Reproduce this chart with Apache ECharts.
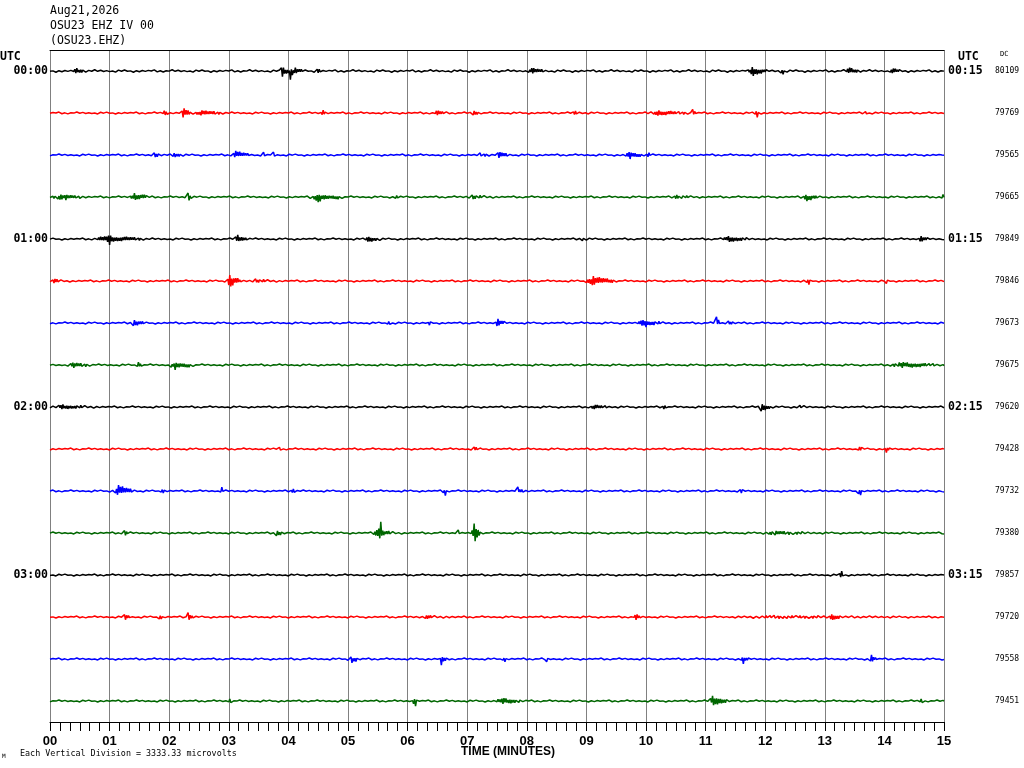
<!DOCTYPE html>
<html><head><meta charset="utf-8">
<script src="https://cdn.jsdelivr.net/npm/echarts@6/dist/echarts.min.js"></script>
<style>html,body{margin:0;padding:0;background:#fff}#c{width:1024px;height:768px}</style>
</head><body><div id="c"></div>
<script>
const minuteLabels = ['00','01','02','03','04','05','06','07','08','09','10','11','12','13','14','15'];
const leftTimes  = ['00:00','','','','01:00','','','','02:00','','','','03:00','','',''];
const rightTimes = ['00:15','','','','01:15','','','','02:15','','','','03:15','','',''];
const dcValues = ['80109','79769','79565','79665','79849','79846','79673','79675','79620','79428','79732','79380','79857','79720','79558','79451'];
const traceColors = ['#000000','#ff0000','#0000ff','#006600'];
// background noise amplitude per line (in vertical divisions)
const baseNoise = [0.03,0.025,0.025,0.025,0.025,0.025,0.025,0.025,0.025,0.025,0.025,0.025,0.025,0.025,0.025,0.025];
// bursts per line: [start minute, end minute, peak up, peak down] (divisions)
const traceEvents = [
  [[0.35,0.7,.07,.05],[3.86,4.0,.1,.14],[4.02,4.06,.05,.24],[4.07,4.25,.08,.06],[4.45,4.55,.05,.04],[8.0,8.36,.07,.06],[11.72,12.0,.1,.12],[12.25,12.32,.02,.1],[13.33,13.67,.08,.05],[14.07,14.35,.06,.05]],
  [[1.9,2.0,.07,.05],[2.2,2.36,.12,.12],[2.4,3.0,.06,.06],[4.55,4.65,.07,.05],[6.43,6.7,.06,.05],[7.05,7.27,.05,.05],[8.75,8.98,.05,.04],[9.98,10.88,.06,.06],[10.77,10.81,.1,.04],[11.84,11.88,.05,.12],[13.68,13.72,.05,.02]],
  [[1.68,1.96,.05,.05],[2.01,2.35,.05,.05],[3.02,3.36,.1,.05],[3.56,3.6,.07,.05],[3.73,3.77,.07,.04],[7.1,7.55,.05,.04],[7.47,7.75,.07,.07],[9.65,9.93,.07,.1],[10.02,10.06,.07,.05]],
  [[0,0.67,.06,.06],[0.26,0.3,.03,.1],[1.34,1.68,.1,.07],[2.28,2.36,.1,.1],[4.36,4.92,.05,.12],[5.78,5.82,.05,.03],[6.93,7.55,.05,.05],[10.37,10.93,.05,.04],[12.6,12.95,.05,.1],[14.95,15,.07,.03]],
  [[0.73,1.68,.08,.07],[0.98,1.02,.12,.14],[3.08,3.36,.1,.05],[5.26,5.6,.05,.07],[8.86,9.1,.05,.04],[11.27,11.77,.07,.07],[14.57,14.74,.07,.07]],
  [[0,0.28,.05,.05],[2.96,3.19,.14,.14],[3.3,3.9,.05,.04],[8.98,9.48,.12,.1],[12.7,12.74,.03,.12],[14.02,14.06,.02,.07]],
  [[1.34,1.62,.07,.07],[5.68,5.72,.05,.03],[6.36,6.4,.03,.07],[7.48,7.52,.03,.07],[7.47,7.63,.1,.07],[9.81,10.37,.07,.07],[9.98,10.02,.12,.1],[11.17,11.21,.17,.03],[11.3,11.6,.05,.04]],
  [[0.28,0.73,.06,.07],[1.45,1.57,.07,.05],[2.01,2.4,.05,.12],[14.07,15.0,.07,.07]],
  [[0,0.84,.06,.05],[9.03,9.48,.05,.05],[10.28,10.32,.05,.05],[11.88,12.1,.07,.1],[12.5,12.8,.04,.04]],
  [[3.84,3.88,.05,.03],[7.05,7.27,.05,.05],[13.58,13.62,.07,.03],[14.02,14.06,.03,.1]],
  [[1.06,1.4,.14,.1],[1.88,1.92,.05,.05],[2.86,2.9,.1,.03],[4.03,4.2,.05,.04],[6.61,6.65,.02,.12],[7.8,7.97,.1,.04],[11.58,11.62,.05,.05],[13.57,13.61,.02,.12]],
  [[1.23,1.34,.07,.06],[3.75,3.97,.05,.07],[5.37,5.87,.07,.07],[5.5,5.58,.31,.14],[6.83,6.87,.07,.02],[7.05,7.22,.07,.07],[7.1,7.2,.29,.21],[11.88,13.0,.05,.05]],
  [[5.46,5.5,.05,.02],[13.26,13.3,.1,.07]],
  [[1.23,1.34,.07,.07],[1.83,1.87,.03,.07],[2.3,2.4,.14,.07],[6.1,7.0,.04,.04],[9.8,9.93,.07,.07],[11.2,15,.04,.04],[13.06,13.33,.07,.07]],
  [[5.0,5.2,.05,.1],[6.55,6.65,.05,.19],[7.61,7.65,.03,.07],[8.31,8.35,.03,.07],[11.6,11.72,.05,.12],[13.75,13.87,.1,.07]],
  [[3.0,3.04,.05,.05],[6.08,6.17,.05,.14],[7.47,8.0,.07,.07],[11.05,11.38,.14,.1],[14.6,14.64,.05,.05]]
];
const wiggle = [0.2,0.9,0.4,0.1,0.7,0.3,1.0,0.15,0.5,0.25,0.8,0.05,0.6];

function buildTrace(row){
  const pts = [];
  const ev = traceEvents[row];
  for (let k = 0; k <= 900; k++){
    const t = k / 60;
    const up = (k % 2 === 1);
    const m = wiggle[(k + row * 5) % wiggle.length];
    let amp = baseNoise[row] * m;
    for (const e of ev){
      const s = e[0], en = e[1], w = en - s;
      if (t < s - 0.03 || t > en + 0.03) continue;
      const spike = w < 0.1;
      const pk = spike ? s + w / 2 : s + w * 0.25;
      let env;
      if (spike){
        env = 1 - Math.abs(t - pk) / (w / 2 + 0.03);
      } else if (t <= pk){
        env = 0.3 + 0.7 * (t - s) / (pk - s);
      } else {
        env = 1 - 0.7 * (t - pk) / (en - pk);
      }
      env = Math.max(0, Math.min(1, env));
      const isPeak = Math.abs(t - pk) * 60 < 1.0;
      const mm = isPeak ? 1 : 0.35 + 0.65 * m;
      const a = (up ? e[2] : e[3]) * env * mm;
      if (a > amp) amp = a;
    }
    pts.push([t, row + 0.5 + (up ? -amp : amp)]);
  }
  return pts;
}

const series = [];
for (let r = 0; r < 16; r++){
  series.push({
    type: 'line', xAxisIndex: 0, yAxisIndex: 0, data: buildTrace(r),
    showSymbol: false, symbol: 'none', silent: true, animation: false,
    lineStyle: { color: traceColors[r % 4], width: 1.5 }
  });
}

const mono = "'DejaVu Sans Mono', 'Liberation Mono', monospace";
const chart = echarts.init(document.getElementById('c'), null, { renderer: 'canvas' });
chart.setOption({
  backgroundColor: '#ffffff',
  animation: false,
  title: [
    { text: 'Aug21,2026\nOSU23 EHZ IV 00\n(OSU23.EHZ)', left: 50, top: 4, padding: 0,
      textStyle: { fontFamily: mono, fontSize: 11.5, fontWeight: 'normal', color: '#000', lineHeight: 15 } },
    { text: 'UTC', left: 0, top: 50, padding: 0,
      textStyle: { fontFamily: mono, fontSize: 11.5, fontWeight: 'bold', color: '#000', lineHeight: 14 } },
    { text: 'UTC', left: 958, top: 50, padding: 0,
      textStyle: { fontFamily: mono, fontSize: 11.5, fontWeight: 'bold', color: '#000', lineHeight: 14 } },
    { text: 'DC', left: 1000, top: 50, padding: 0,
      textStyle: { fontFamily: mono, fontSize: 7, fontWeight: 'normal', color: '#000', lineHeight: 9 } },
    { text: 'TIME (MINUTES)', left: 461, top: 746, padding: 0,
      textStyle: { fontFamily: "'Liberation Sans', Arial, sans-serif", fontSize: 12, fontWeight: 'bold', color: '#000', lineHeight: 12 } },
    { text: 'Each Vertical Division = 3333.33 microvolts', left: 20, top: 749, padding: 0,
      textStyle: { fontFamily: mono, fontSize: 8.4, fontWeight: 'normal', color: '#000', lineHeight: 10 } },
    { text: 'M', left: 2, top: 753, padding: 0,
      textStyle: { fontFamily: mono, fontSize: 6, fontWeight: 'normal', color: '#000', lineHeight: 7 } }
  ],
  grid: { left: 50, right: 80, top: 50, bottom: 46, show: false, containLabel: false },
  xAxis: [
    { type: 'value', position: 'bottom', min: 0, max: 15, interval: 1,
      axisLine: { show: true, onZero: false, lineStyle: { color: '#000', width: 1 } },
      axisTick: { show: true, length: 9, lineStyle: { color: '#000', width: 1 } },
      minorTick: { show: true, splitNumber: 6, length: 9, lineStyle: { color: '#000', width: 1 } },
      splitLine: { show: true, showMinLine: true, showMaxLine: true, lineStyle: { color: '#808080', width: 1 } },
      axisLabel: { show: true, margin: 12, color: '#000', fontFamily: "'Liberation Sans', Arial, sans-serif",
        fontSize: 13, fontWeight: 'bold', lineHeight: 14,
        formatter: v => minuteLabels[Math.round(v)] } },
    { type: 'value', position: 'top', min: 0, max: 15, interval: 1,
      axisLine: { show: true, onZero: false, lineStyle: { color: '#000', width: 1 } },
      axisTick: { show: false }, minorTick: { show: false }, axisLabel: { show: false }, splitLine: { show: false } }
  ],
  yAxis: [
    { type: 'value', min: 0, max: 16, inverse: true, show: false },
    { type: 'category', position: 'left', inverse: true, data: leftTimes, boundaryGap: true,
      axisLine: { show: false }, axisTick: { show: false }, splitLine: { show: false },
      axisLabel: { interval: 0, margin: 2, color: '#000', fontFamily: mono, fontSize: 11.5, fontWeight: 'bold' } },
    { type: 'category', position: 'right', inverse: true, data: rightTimes, boundaryGap: true,
      axisLine: { show: false }, axisTick: { show: false }, splitLine: { show: false },
      axisLabel: { interval: 0, margin: 4, color: '#000', fontFamily: mono, fontSize: 11.5, fontWeight: 'bold' } },
    { type: 'category', position: 'right', offset: 45, inverse: true, data: dcValues, boundaryGap: true,
      axisLine: { show: false }, axisTick: { show: false }, splitLine: { show: false },
      axisLabel: { interval: 0, margin: 6, color: '#000', fontFamily: mono, fontSize: 8, fontWeight: 'normal' } }
  ],
  series: series
});
</script>
</body></html>
